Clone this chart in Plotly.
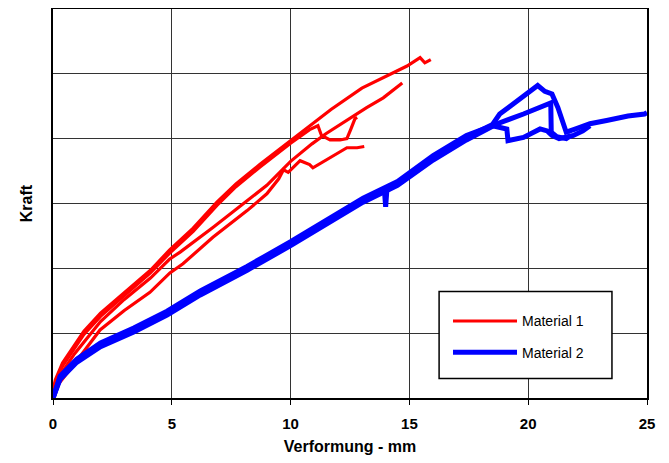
import plotly.graph_objects as go

# ---------------- Data ----------------
# Material 1 (red) - four specimens
m1_s1_x = [0, 0.1, 0.4, 0.85, 1.3, 2.0, 3.1, 4.1, 4.9, 5.9, 6.9, 7.7, 8.7, 10.0, 10.9, 11.7, 13.0, 14.2, 14.9, 15.45, 15.65, 15.9]
m1_s1_y = [0.12, 0.28, 0.54, 0.78, 1.03, 1.31, 1.66, 1.97, 2.28, 2.62, 3.02, 3.3, 3.6, 3.97, 4.22, 4.45, 4.78, 5.0, 5.12, 5.25, 5.17, 5.22]

m1_s2_x = [0, 0.1, 0.4, 0.85, 1.3, 2.0, 3.1, 4.1, 4.9, 5.9, 6.9, 7.7, 8.7, 10.0, 10.8, 11.15, 11.3, 11.66, 12.08, 12.37, 12.54, 12.71, 12.8]
m1_s2_y = [0.08, 0.23, 0.49, 0.73, 0.98, 1.26, 1.61, 1.93, 2.23, 2.57, 2.97, 3.26, 3.56, 3.93, 4.14, 4.2, 4.05, 3.98, 3.98, 4.0, 4.15, 4.31, 4.33]

m1_s3_x = [0, 0.3, 0.9, 2.0, 3.0, 4.1, 4.9, 5.35, 6.73, 8.17, 9.0, 10.0, 10.9, 11.5, 12.0, 12.5, 13.2, 13.9, 14.7]
m1_s3_y = [0.08, 0.35, 0.68, 1.18, 1.52, 1.85, 2.14, 2.25, 2.63, 3.05, 3.28, 3.65, 3.92, 4.08, 4.2, 4.32, 4.48, 4.63, 4.86]

m1_s4_x = [0, 0.2, 0.93, 1.98, 3.0, 4.08, 4.92, 5.47, 6.73, 8.17, 9.0, 9.5, 9.7, 9.9, 10.4, 10.8, 10.94, 11.66, 12.37, 12.8, 13.1]
m1_s4_y = [0.05, 0.2, 0.54, 1.05, 1.35, 1.63, 1.93, 2.07, 2.48, 2.89, 3.15, 3.38, 3.52, 3.48, 3.66, 3.6, 3.55, 3.71, 3.86, 3.86, 3.88]

# Material 2 (blue) - three specimens
m2_s1_x = [0, 0.3, 1.0, 2.0, 3.4, 4.8, 6.2, 6.73, 8.17, 10.0, 11.66, 13.05, 13.95, 14.0, 14.05, 14.5, 16.0, 17.4, 18.5, 18.8, 19.5, 20.2, 20.4, 20.7, 21.0, 21.25, 21.5, 21.6, 22.0, 22.6, 23.3, 24.2, 24.9, 25.0]
m2_s1_y = [0.0, 0.32, 0.58, 0.82, 1.05, 1.31, 1.62, 1.71, 2.0, 2.38, 2.74, 3.05, 3.2, 2.95, 3.2, 3.31, 3.71, 4.02, 4.22, 4.38, 4.58, 4.77, 4.82, 4.73, 4.69, 4.48, 4.23, 4.1, 4.15, 4.23, 4.28, 4.35, 4.38, 4.4]

m2_s2_x = [0, 0.3, 1.0, 2.0, 3.4, 4.8, 6.2, 8.17, 10.0, 11.66, 13.05, 14.5, 16.0, 17.4, 18.5, 18.7, 19.8, 20.9, 20.95, 20.97, 21.2, 21.6, 21.8]
m2_s2_y = [0.0, 0.29, 0.55, 0.79, 1.02, 1.28, 1.59, 1.97, 2.35, 2.71, 3.02, 3.28, 3.67, 3.98, 4.18, 4.23, 4.38, 4.54, 4.55, 4.1, 4.03, 4.0, 4.05]

m2_s3_x = [0, 0.3, 1.0, 2.0, 3.4, 4.8, 6.2, 8.17, 10.0, 11.66, 13.05, 14.5, 16.0, 17.4, 18.5, 19.1, 19.15, 19.8, 20.5, 20.8, 21.0, 21.3, 21.9, 22.3, 22.6]
m2_s3_y = [0.0, 0.34, 0.6, 0.85, 1.08, 1.34, 1.65, 2.03, 2.41, 2.77, 3.08, 3.34, 3.74, 4.05, 4.2, 4.15, 3.97, 4.02, 4.15, 4.12, 4.05, 4.0, 4.05, 4.12, 4.2]

x_ticks = [0, 5, 10, 15, 20, 25]
x_title = "Verformung - mm"
y_title = "Kraft"
series_names = ["Material 1", "Material 2"]

# ---------------- Figure ----------------
FONT = "Liberation Sans, Arial, sans-serif"
RED = "#ff0000"
BLUE = "#0000ff"

fig = go.Figure()

m2 = [(m2_s1_x, m2_s1_y), (m2_s2_x, m2_s2_y), (m2_s3_x, m2_s3_y)]
m1 = [(m1_s1_x, m1_s1_y), (m1_s2_x, m1_s2_y), (m1_s3_x, m1_s3_y), (m1_s4_x, m1_s4_y)]

for i, (xs, ys) in enumerate(m1):
    fig.add_trace(go.Scatter(x=xs, y=ys, mode="lines",
                             line=dict(color=RED, width=3.2),
                             name=series_names[0], legendgroup="m1",
                             showlegend=(i == 0)))
for i, (xs, ys) in enumerate(m2):
    fig.add_trace(go.Scatter(x=xs, y=ys, mode="lines",
                             line=dict(color=BLUE, width=5),
                             name=series_names[1], legendgroup="m2",
                             showlegend=(i == 0)))

axis_common = dict(
    showgrid=True, gridcolor="#333333", gridwidth=1,
    showline=True, linecolor="black", linewidth=2, mirror=True,
    zeroline=False, automargin=False,
)

# The page body has an 8px margin, so the figure is sized/offset to compensate.
fig.update_layout(
    width=661, height=455,
    margin=dict(l=45, r=22, t=1, b=65),
    paper_bgcolor="white", plot_bgcolor="white",
    font=dict(family=FONT, color="black"),
    xaxis=dict(range=[0, 25], tickvals=x_ticks, ticks="outside", ticklen=5,
               tickcolor="black", tickwidth=1, ticklabelstandoff=6,
               tickfont=dict(size=15, weight="bold"),
               title=dict(text=x_title, font=dict(size=16, weight="bold"), standoff=10),
               **axis_common),
    yaxis=dict(range=[0, 6], dtick=1, showticklabels=False, ticks="",
               title=dict(text=y_title, font=dict(size=16, weight="bold"), standoff=14),
               **axis_common),
    legend=dict(x=0.665, y=0.238, xanchor="left", yanchor="top",
                bgcolor="rgba(0,0,0,0)", borderwidth=0,
                font=dict(size=14), tracegroupgap=10, traceorder="grouped",
                itemwidth=64),
    showlegend=True,
    shapes=[dict(type="rect", xref="paper", yref="paper",
                 x0=0.65, x1=0.941, y0=0.05, y1=0.274,
                 line=dict(color="black", width=1.5), fillcolor="white",
                 layer="above")],
)

fig.write_html("out.html")
